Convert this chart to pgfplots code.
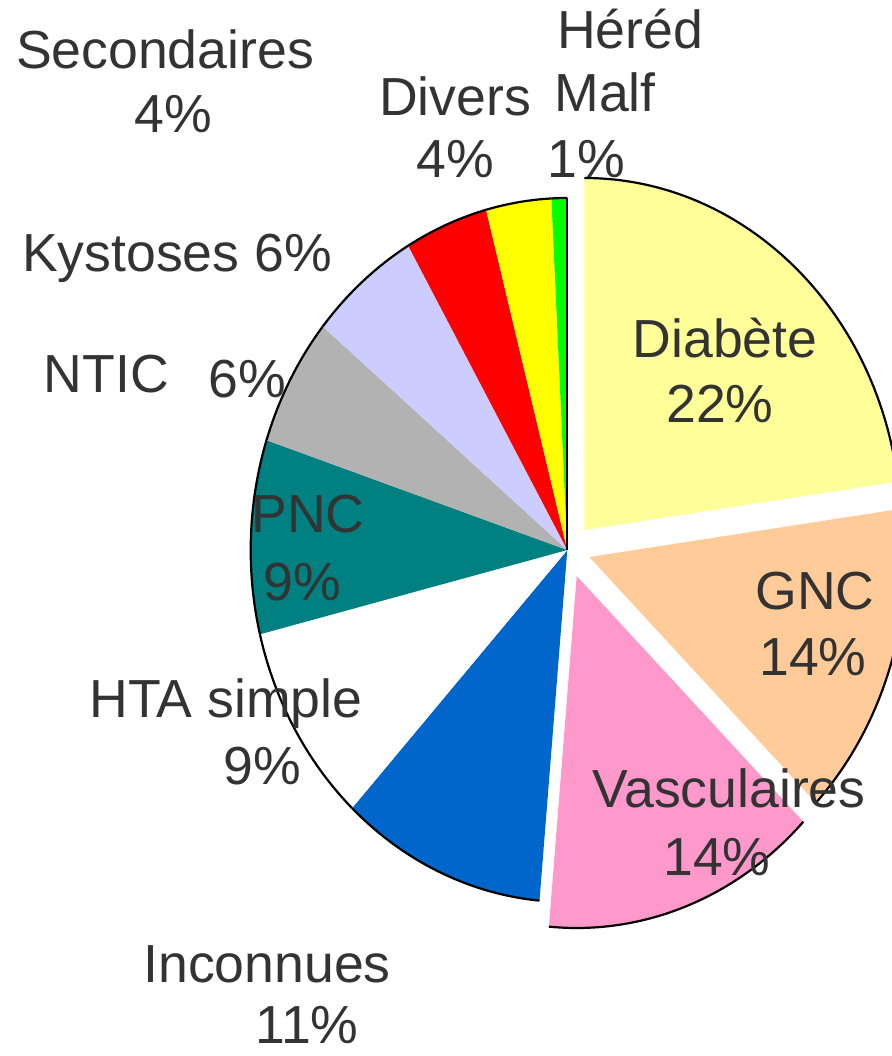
\documentclass[border=0pt]{standalone}
\usepackage{fontspec}
\setmainfont{Liberation Sans}
\usepackage{pgfplots}
\usepackage{pgfplotstable}
\pgfplotsset{compat=1.18}

\definecolor{pie0}{HTML}{FFFF99}
\definecolor{pie1}{HTML}{FFCC99}
\definecolor{pie2}{HTML}{FF99CC}
\definecolor{pie3}{HTML}{0066CC}
\definecolor{pie4}{HTML}{FFFFFF}
\definecolor{pie5}{HTML}{008080}
\definecolor{pie6}{HTML}{B2B2B2}
\definecolor{pie7}{HTML}{CCCCFF}
\definecolor{pie8}{HTML}{FF0000}
\definecolor{pie9}{HTML}{FFFF00}
\definecolor{pie10}{HTML}{00FF00}
\definecolor{txt}{HTML}{333333}

% value in percent; dx, dy = explosion offset (axis units)
\pgfplotstableread{
name value dx dy
Diabete 22.8 17 20
GNC 14.5 22 -7
Vasculaires 14.1 9.4 -26
Inconnues 10.5 0 0
HTA 9.25 0 0
PNC 8.9 0 0
NTIC 5.9 0 0
Kystoses 5.67 0 0
Secondaires 4.25 0 0
Divers 3.33 0 0
Hered 0.8 0 0
}\piedata

\newcommand{\lab}[3]{\node[anchor=base,inner sep=0pt,text=txt,font=\fontsize{26.8pt}{30pt}\selectfont] at (axis cs:#1,#2) {#3};}

\begin{document}
\begin{tikzpicture}
\useasboundingbox (0,0) rectangle (446pt,528pt);
\begin{axis}[
  at={(0pt,0pt)}, anchor=south west,
  scale only axis, width=446pt, height=528pt,
  xmin=0, xmax=892, ymin=0, ymax=1056,
  hide axis, clip=false,
]
\pgfplotsextra{
  \def\cx{567.3}\def\cy{506}
  \def\rxp{158.3}\def\ryp{176}
  \gdef\cum{0}
  \pgfplotstablegetrowsof{\piedata}
  \pgfmathtruncatemacro\nrows{\pgfplotsretval-1}
  \foreach \i in {0,...,\nrows}{
    \pgfplotstablegetelem{\i}{value}\of{\piedata}\let\v\pgfplotsretval
    \pgfplotstablegetelem{\i}{dx}\of{\piedata}\let\ddx\pgfplotsretval
    \pgfplotstablegetelem{\i}{dy}\of{\piedata}\let\ddy\pgfplotsretval
    \pgfmathsetmacro\px{\cx+\ddx}
    \pgfmathsetmacro\py{\cy+\ddy}
    \pgfmathsetmacro\aone{90-\cum*3.6}
    \pgfmathsetmacro\atwo{90-(\cum+\v)*3.6}
    \fill[pie\i] (axis cs:\px,\py) -- ++(\aone:\rxp pt and \ryp pt)
      arc[start angle=\aone, end angle=\atwo, x radius=\rxp pt, y radius=\ryp pt] -- cycle;
    \draw[line width=1.1pt, black] (axis cs:\px,\py) ++(\aone:\rxp pt and \ryp pt)
      arc[start angle=\aone, end angle=\atwo, x radius=\rxp pt, y radius=\ryp pt];
    \pgfmathsetmacro\newcum{\cum+\v}
    \global\let\cum\newcum
  }
  \draw[line width=1.1pt, black] (axis cs:\cx,\cy) -- ++(90:\ryp pt);
}
\lab{630}{1007}{Héréd}
\lab{605}{944}{Malf}
\lab{586}{878}{1\%}
\lab{455}{940}{Divers}
\lab{455.5}{878}{4\%}
\lab{165}{987}{Secondaires}
\lab{173}{923}{4\%}
\lab{177}{784}{Kystoses 6\%}
\lab{106.5}{663}{NTIC}
\lab{247.5}{658}{6\%}
\lab{308}{523}{PNC}
\lab{302}{455}{9\%}
\lab{226}{338}{HTA simple}
\lab{262}{271}{9\%}
\lab{267}{74}{Inconnues}
\lab{307}{13}{11\%}
\lab{725}{698}{Diabète}
\lab{720}{633}{22\%}
\lab{815}{446}{GNC}
\lab{813}{380}{14\%}
\lab{729}{249}{Vasculaires}
\lab{717}{181}{14\%}
\end{axis}
\end{tikzpicture}
\end{document}
